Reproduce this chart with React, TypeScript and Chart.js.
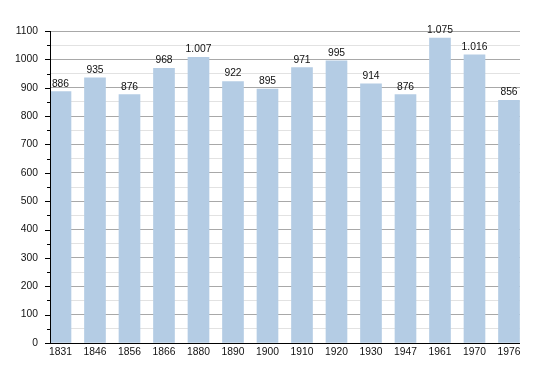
import React, { useEffect, useRef } from "react";
import { Chart, registerables } from "chart.js";

Chart.register(...registerables);

const years = ["1831", "1846", "1856", "1866", "1880", "1890", "1900", "1910", "1920", "1930", "1947", "1961", "1970", "1976"];
const population = [886, 935, 876, 968, 1007, 922, 895, 971, 995, 914, 876, 1075, 1016, 856];
const valueLabels = ["886", "935", "876", "968", "1.007", "922", "895", "971", "995", "914", "876", "1.075", "1.016", "856"];

const FONT = "'Liberation Sans', Arial, Helvetica, sans-serif";

export default function App() {
  const ref = useRef<HTMLCanvasElement | null>(null);

  useEffect(() => {
    if (!ref.current) return;
    const decor = {
      id: "decor",
      afterDatasetsDraw(chart: any) {
        const ctx = chart.ctx;
        const y = chart.scales.y;
        const x = chart.scales.x;
        const area = chart.chartArea;
        ctx.save();
        ctx.strokeStyle = "#000";
        ctx.lineWidth = 1;
        ctx.beginPath();
        ctx.moveTo(area.left + 0.5, area.top);
        ctx.lineTo(area.left + 0.5, area.bottom);
        ctx.stroke();
        ctx.beginPath();
        ctx.moveTo(area.left - 5, Math.round(area.bottom) + 0.5);
        ctx.lineTo(area.right, Math.round(area.bottom) + 0.5);
        ctx.stroke();
        for (let v = 0; v <= 1100; v += 50) {
          const py = Math.round(y.getPixelForValue(v)) + 0.5;
          const len = v % 100 === 0 ? 5 : 3;
          ctx.beginPath();
          ctx.moveTo(area.left - len, py);
          ctx.lineTo(area.left, py);
          ctx.stroke();
        }
        ctx.fillStyle = "#111";
        ctx.font = "10.3px " + FONT;
        ctx.textAlign = "center";
        ctx.textBaseline = "alphabetic";
        population.forEach((v, i) => {
          const px = x.getPixelForValue(i);
          const py = y.getPixelForValue(v);
          ctx.fillText(valueLabels[i], px, py - 5);
        });
        ctx.restore();
      },
    };

    const chart = new Chart(ref.current, {
      type: "bar",
      data: {
        datasets: [
          {
            data: population.map((v, i) => ({ x: i, y: v })),
            backgroundColor: "#b4cce4",
            borderWidth: 0,
            barThickness: 21,
          },
        ],
      },
      options: {
        animation: false,
        responsive: false,
        maintainAspectRatio: false,
        layout: { padding: { top: 31, right: 30, left: 0, bottom: 0 } },
        plugins: { legend: { display: false }, tooltip: { enabled: false } },
        scales: {
          x: {
            type: "linear",
            offset: false,
            min: -0.304,
            max: 13.319,
            grid: { display: false, drawTicks: false },
            border: { display: false },
            afterBuildTicks: (scale: any) => {
              scale.ticks = years.map((_, i) => ({ value: i }));
            },
            afterFit: (scale: any) => {
              scale.height = 30;
            },
            ticks: {
              autoSkip: false,
              maxRotation: 0,
              padding: 3,
              color: "#111",
              font: { family: FONT, size: 10.3 },
              callback: (v: any) => years[Math.round(Number(v))] ?? "",
            },
          },
          y: {
            min: 0,
            max: 1100,
            afterFit: (scale: any) => {
              scale.width = 50;
            },
            border: { display: false },
            grid: {
              drawTicks: false,
              color: (c: any) => (c.tick && c.tick.value % 100 === 0 ? "#a8a8a8" : "#e2e2e2"),
              lineWidth: 1,
            },
            ticks: {
              stepSize: 50,
              autoSkip: false,
              padding: 12,
              color: "#111",
              font: { family: FONT, size: 10.3 },
              callback: (v: any) => (Number(v) % 100 === 0 ? String(v) : ""),
            },
          },
        },
      },
      plugins: [decor],
    } as any);
    return () => chart.destroy();
  }, []);

  return (
    <div style={{ position: "fixed", left: 0, top: 0, width: 550, height: 373, background: "#fff" }}>
      <canvas ref={ref} width={550} height={373} style={{ width: 550, height: 373, display: "block" }} />
    </div>
  );
}
